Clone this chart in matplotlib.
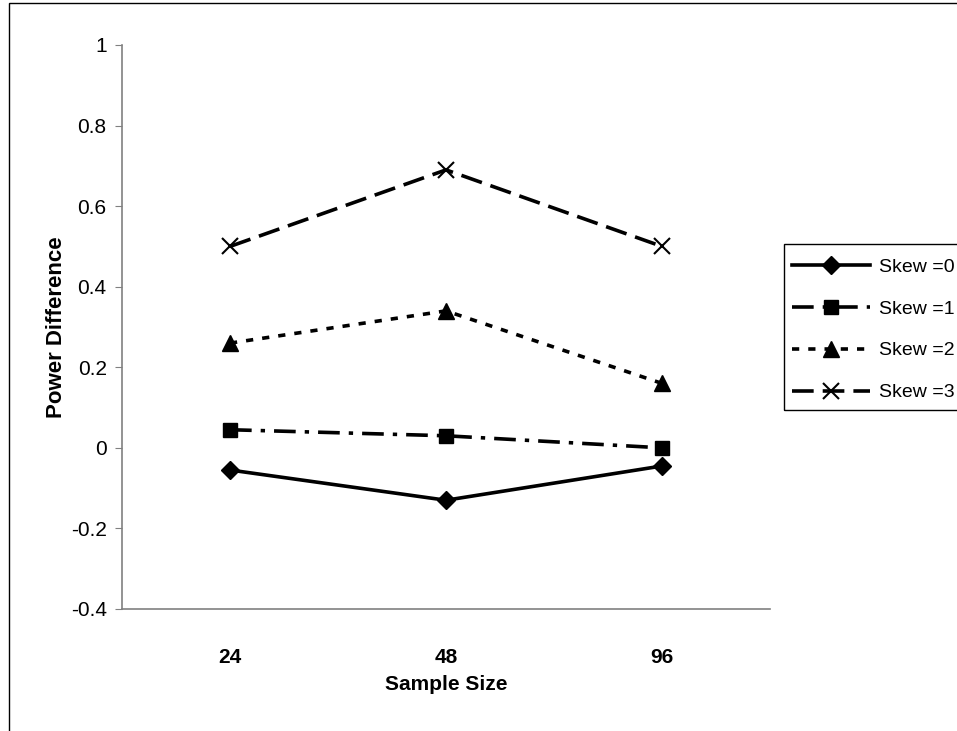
import matplotlib
matplotlib.use("Agg")
import matplotlib.pyplot as plt
from matplotlib.patches import Rectangle

plt.rcParams['font.family'] = ['Liberation Sans', 'DejaVu Sans']

categories = ["24", "48", "96"]
series_names = ["Skew =0", "Skew =1", "Skew =2", "Skew =3"]
skew0 = [-0.055, -0.13, -0.045]
skew1 = [0.045, 0.03, 0.0]
skew2 = [0.26, 0.34, 0.16]
skew3 = [0.50, 0.69, 0.50]
yticks = [-0.4, -0.2, 0, 0.2, 0.4, 0.6, 0.8, 1]
ytick_labels = ["-0.4", "-0.2", "0", "0.2", "0.4", "0.6", "0.8", "1"]

W, H = 957, 731
fig = plt.figure(figsize=(W/100, H/100), dpi=100)
fig.patches.append(Rectangle((9/W, -0.1), 1.2, 1 - 3/H + 0.1, transform=fig.transFigure,
                             fill=False, edgecolor='black', linewidth=1.0))
# legend frame (extends past right edge as in the reference)
fig.patches.append(Rectangle((784/W, 1 - 410/H), 0.3, (410-244)/H, transform=fig.transFigure,
                             fill=False, edgecolor='black', linewidth=1.0))

ax = fig.add_axes([122/W, 1 - 609/H, (770-122)/W, (609-45)/H])
x = list(range(len(categories)))
styles = [
    dict(linestyle='-', marker='D', markersize=9),
    dict(linestyle=(0, (6, 2.5, 1.2, 2.5)), marker='s', markersize=10),
    dict(linestyle=(0, (2, 2.5)), marker='^', markersize=11),
    dict(linestyle=(0, (6, 2.5)), marker='x', markersize=12, markeredgewidth=1.5),
]
data = [skew0, skew1, skew2, skew3]
lines = []
for vals, name, st in zip(data, series_names, styles):
    l, = ax.plot(x, vals, color='black', linewidth=2.6, label=name, **st)
    lines.append(l)

ax.set_xlim(-0.5, 2.5)
ax.set_ylim(-0.4, 1.0)
ax.set_yticks(yticks)
ax.set_yticklabels(ytick_labels, fontsize=15)
ax.set_xticks(x)
ax.set_xticklabels(categories, fontsize=15, fontweight='bold')
ax.tick_params(axis='x', length=0, pad=28)
ax.tick_params(axis='y', length=5, color='#808080', pad=6)
for s in ['top', 'right']:
    ax.spines[s].set_visible(False)
for s in ['left', 'bottom']:
    ax.spines[s].set_color('#808080')
    ax.spines[s].set_linewidth(1.2)
ax.set_xlabel("Sample Size", fontsize=15, fontweight='bold', labelpad=6)
ax.set_ylabel("Power Difference", fontsize=16, fontweight='bold', labelpad=3)

leg = fig.legend(handles=lines, loc='upper left', bbox_to_anchor=(792/W, 1 - 258/H),
                 fontsize=14, frameon=False,
                 handlelength=4.0, handletextpad=0.45, labelspacing=1.25,
                 borderpad=0.0, borderaxespad=0)

fig.savefig("out.png", dpi=100)
